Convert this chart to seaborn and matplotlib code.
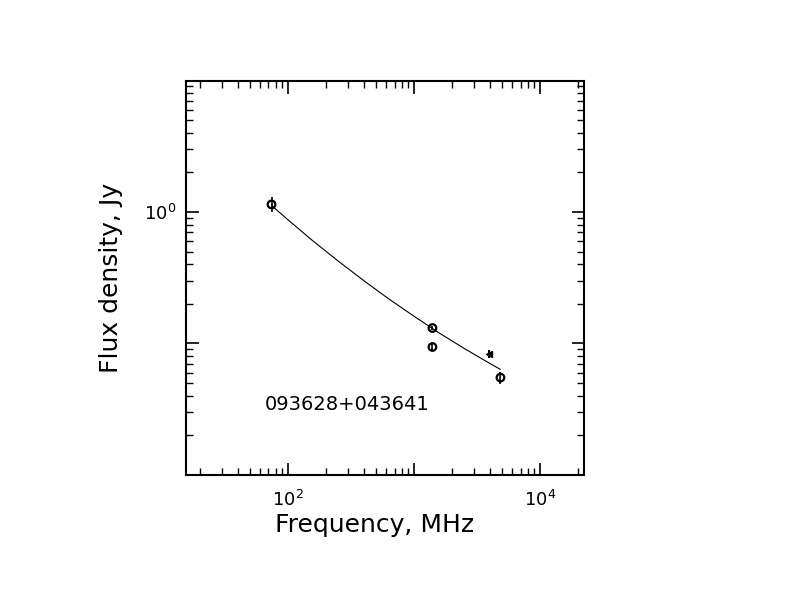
import numpy as np
import seaborn as sns
import pandas as pd
import matplotlib.pyplot as plt

# measured points (MHz, Jy)
freq = [74, 1400, 1400, 4850]
flux = [1.14, 0.131, 0.094, 0.055]
flux_err = [0.15, 0.005, 0.006, 0.006]

# upper limit
lim_freq = [3940]
lim_flux = [0.083]

# fitted spectrum
fit_freq = [74, 100, 158, 251, 398, 631, 1000, 1585, 2512, 3981, 4850]
fit_flux = [1.12, 0.871, 0.601, 0.422, 0.301, 0.218, 0.161, 0.120, 0.0914, 0.0706, 0.0635]

source_name = "093628+043641"
x_major = [1e2, 1e3, 1e4]
x_labels = ["$10^2$", "", "$10^4$"]
y_major = [1e-2, 1e-1, 1e0, 1e1]
y_labels = ["", "", "$10^0$", ""]

sns.set_style("ticks")
plt.rcParams['font.family'] = ['DejaVu Sans']
plt.rcParams['mathtext.default'] = 'regular'
plt.rcParams['text.color'] = 'black'
plt.rcParams['axes.labelcolor'] = 'black'
plt.rcParams['xtick.color'] = 'black'
plt.rcParams['ytick.color'] = 'black'

fig = plt.figure(figsize=(7.92, 6.12), dpi=100)
ax = fig.add_axes([0.2348, 0.2239, 0.5025, 0.6438])

pts = pd.DataFrame({'freq': freq, 'flux': flux, 'err': flux_err})
fit = pd.DataFrame({'freq': fit_freq, 'flux': fit_flux})

sns.lineplot(data=fit, x='freq', y='flux', color='black', linewidth=0.8, ax=ax)
ax.errorbar(pts['freq'], pts['flux'], yerr=pts['err'], fmt='none',
            ecolor='black', elinewidth=1.2, capsize=0)
sns.scatterplot(data=pts, x='freq', y='flux', marker='o', s=30,
                facecolor='none', edgecolor='black', linewidth=1.6, ax=ax)
ax.plot(lim_freq, lim_flux, marker='<', color='black', markersize=5, linestyle='none')
ax.plot(lim_freq, lim_flux, marker='|', color='black', markersize=6,
        markeredgewidth=1.5, linestyle='none')

ax.set_xscale('log')
ax.set_yscale('log')
ax.set_xticks(x_major)
ax.set_xticklabels(x_labels)
ax.set_yticks(y_major)
ax.set_yticklabels(y_labels)
ax.set_xlim(15.5, 22300)
ax.set_ylim(0.01, 9.9)

ax.tick_params(which='both', direction='in', top=True, right=True)
ax.tick_params(which='major', length=9, width=1.2, labelsize=13)
ax.tick_params(which='minor', length=5, width=1.0)
ax.tick_params(axis='x', which='major', pad=11)
ax.tick_params(axis='y', which='major', pad=7)
for sp in ax.spines.values():
    sp.set_linewidth(1.5)
    sp.set_color('black')

ax.set_xlabel("Frequency, MHz", fontsize=18)
ax.set_ylabel("Flux density, Jy", fontsize=18)
ax.xaxis.set_label_coords(0.475, -0.096)
ax.yaxis.set_label_coords(-0.158, 0.50)

ax.text(0.198, 0.178, source_name, transform=ax.transAxes, fontsize=14,
        ha='left', va='center')

fig.savefig('out.png', dpi=100)
